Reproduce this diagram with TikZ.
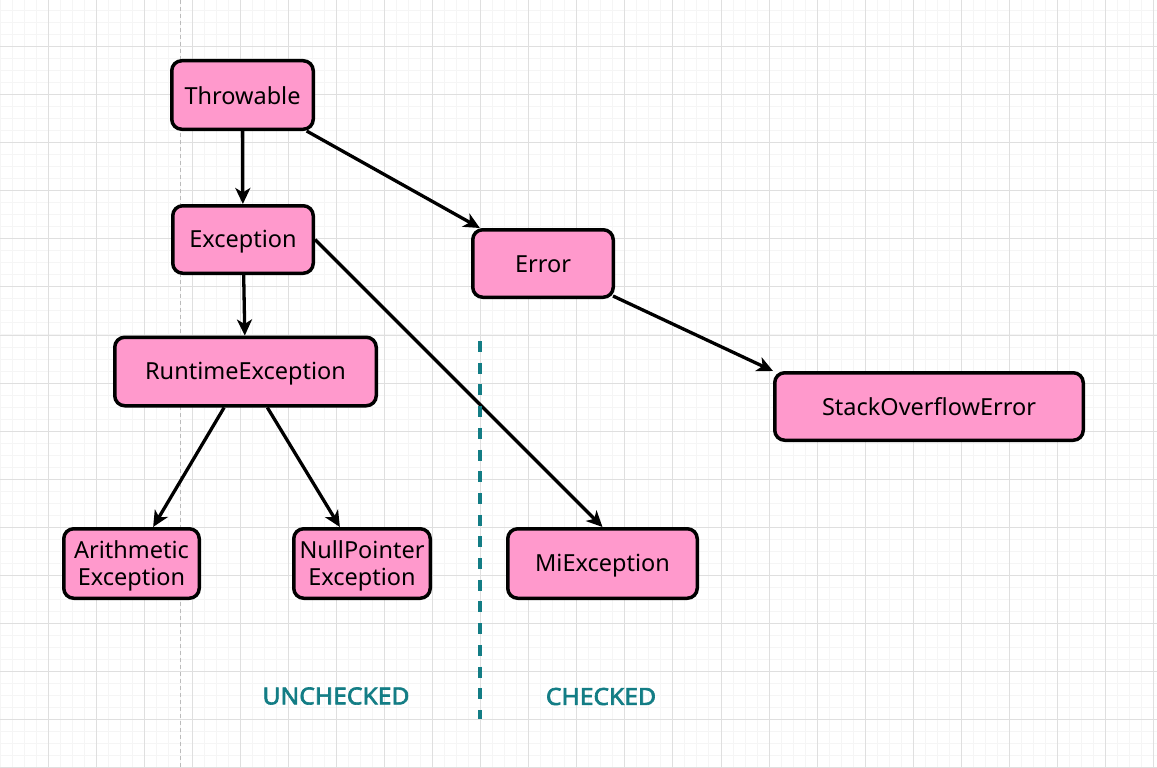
\documentclass[tikz,border=0pt]{standalone}
\usepackage{fontspec}
\setmainfont{Noto Sans}
\newfontfamily\lblfont{Noto Sans}[FakeBold=2.6,FakeStretch=1.05]
\usetikzlibrary{arrows.meta,calc}
\definecolor{boxpink}{HTML}{FF99CC}
\definecolor{teal2}{RGB}{19,125,133}
\definecolor{gmajor}{HTML}{DFDFDF}
\definecolor{gminor}{HTML}{F5F5F5}
\definecolor{dotgray}{HTML}{BBBBBB}
\newcommand\tst{\rule[-4pt]{0pt}{26.4pt}}
\tikzset{
  box/.style={draw=black, line width=3.5pt, fill=boxpink, rounded corners=10pt,
    font=\fontsize{23.5}{27.5}\selectfont, align=center, inner sep=0pt},
  arr/.style={draw=black, line width=3.3pt, -{Stealth[length=16pt,width=15pt,inset=4.5pt]}},
  lbl/.style={text=teal2, font=\lblfont\fontsize{23.5}{26}\selectfont, inner sep=0pt},
}
\begin{document}
\begin{tikzpicture}[x=1pt,y=-1pt]
\useasboundingbox (0,0) rectangle (1157,768);
\fill[white] (0,0) rectangle (1157,768);
% minor grid
\foreach \i in {0,...,96} {
  \draw[gminor, line width=1pt] ({0.25+12.0125*\i},0) -- ({0.25+12.0125*\i},768);
}
\foreach \i in {0,...,64} {
  \draw[gminor, line width=1pt] (0,{10.66+12.0125*(\i-1)}) -- (1157,{10.66+12.0125*(\i-1)});
}
% major grid
\foreach \i in {0,...,24} {
  \draw[gmajor, line width=1pt] ({48.3+48.05*\i},0) -- ({48.3+48.05*\i},768);
}
\foreach \i in {0,...,16} {
  \draw[gmajor, line width=1pt] (0,{46.7+48.05*\i}) -- (1157,{46.7+48.05*\i});
}
% dotted gray guide
\coordinate (gtop) at (180.3,0);
\coordinate (gbot) at (180.3,768);
\draw[dotgray, line width=1pt, dash pattern=on 4pt off 3pt] (gtop) -- (gbot);

% nodes
\node[box, minimum width=141.5pt, minimum height=68.5pt] (thr) at (242.5,95) {\tst Throwable};
\node[box, minimum width=140.5pt, minimum height=67.5pt] (exc) at (243,239.5) {\tst Exception};
\node[box, minimum width=140.5pt, minimum height=67.5pt] (err) at (543,263.5) {\tst Error};
\node[box, minimum width=261.5pt, minimum height=68.5pt] (rt) at (245.5,371.5) {\tst RuntimeException};
\node[box, minimum width=308.5pt, minimum height=67.5pt] (so) at (929,406.5) {\tst StackOverflowError};
\node[box, minimum width=135.5pt, minimum height=69.5pt] (ar) at (131.5,563.5) {\tst Arithmetic\\\tst Exception};
\node[box, minimum width=136.5pt, minimum height=69.5pt] (np) at (362,563.5) {\tst NullPointer\\\tst Exception};
\node[box, minimum width=189.5pt, minimum height=69.5pt] (mi) at (602.5,563.5) {\tst MiException};

% connectors
\draw[arr] (thr) -- (exc);
\draw[arr] (thr) -- (err);
\draw[arr] (exc) -- (rt);
\draw[arr] (exc.east) -- (mi.north);
\draw[arr] ($(err.south east)+(-2,-3)$) -- (so.north west);
\draw[arr] (rt) -- (ar);
\draw[arr] (rt) -- (np);

% divider
\coordinate (dtop) at (480,341);
\coordinate (dbot) at (480,719);
\draw[teal2, line width=4pt, dash pattern=on 11pt off 10.7pt] (dtop) -- (dbot);

% labels
\node[lbl] (unc) at (336,696) {UNCHECKED};
\node[lbl] (chk) at (601,696.5) {CHECKED};
\end{tikzpicture}
\end{document}
